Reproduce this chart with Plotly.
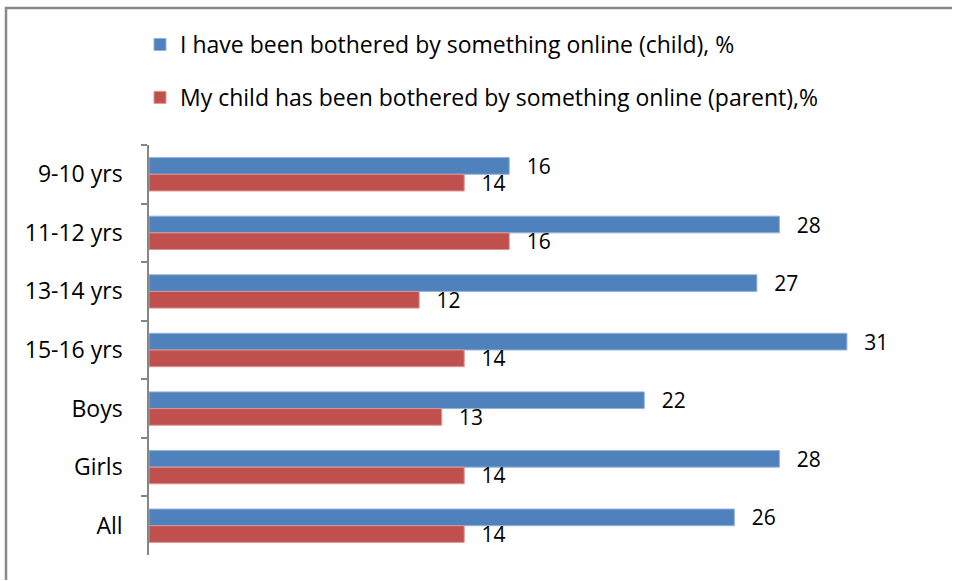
import plotly.graph_objects as go

categories = ["9-10 yrs", "11-12 yrs", "13-14 yrs", "15-16 yrs", "Boys", "Girls", "All"]
child_values = [16, 28, 27, 31, 22, 28, 26]
parent_values = [14, 16, 12, 14, 13, 14, 14]
child_name = "I have been bothered by something online (child), %"
parent_name = "My child has been bothered by something online (parent),%"

FONT = "Open Sans"
W, H = 953, 581
ml, mr, mt, mb = 149, 16, 145, 26
pw = W - ml - mr
ph = H - mt - mb

def px_x(p):
    return (p - ml) / pw

def px_y(p):
    return (H - mb - p) / ph

fig = go.Figure()
fig.add_trace(go.Bar(
    y=categories, x=child_values, name=child_name, orientation="h",
    marker=dict(color="#4F81BD", line=dict(color="#95B3D7", width=1)),
    text=child_values, texttemplate="  \u2009%{x}", textposition="outside",
    textfont=dict(family=FONT, size=21, color="#000000"),
    constraintext="none", cliponaxis=False, legendgroup="a",
))
fig.add_trace(go.Bar(
    y=categories, x=parent_values, name=parent_name, orientation="h",
    marker=dict(color="#C0504D", line=dict(color="#D99694", width=1)),
    text=parent_values, texttemplate="  \u2009%{x}", textposition="outside",
    textfont=dict(family=FONT, size=21, color="#000000"),
    constraintext="none", cliponaxis=False, legendgroup="b",
))

fig.update_layout(
    width=W, height=H,
    margin=dict(l=ml, r=mr, t=mt, b=mb, pad=0, autoexpand=False),
    paper_bgcolor="white", plot_bgcolor="white",
    barmode="group", bargap=0.43, bargroupgap=0,
    font=dict(family=FONT, size=22, color="#000000"),
    showlegend=True,
    legend=dict(
        x=px_x(140), xanchor="left",
        y=px_y(23), yanchor="top",
        font=dict(family=FONT, size=23, color="#000000"),
        tracegroupgap=20, traceorder="grouped",
        itemwidth=30, bgcolor="rgba(0,0,0,0)",
    ),
)
fig.update_xaxes(range=[0, 35], visible=False, showgrid=False, fixedrange=True, automargin=False)
fig.update_yaxes(
    autorange="reversed", type="category", automargin=False,
    showline=True, linecolor="#868686", linewidth=1.5,
    ticks="outside", ticklen=6, tickcolor="#868686", tickwidth=1.5,
    tickson="boundaries", showgrid=False,
    tickfont=dict(family=FONT, size=23, color="#000000"),
    ticklabelstandoff=20,
)
frame_line = dict(color="#898989", width=2.5)
# top edge of the chart frame (runs off the right side of the picture)
fig.add_shape(type="line", xref="paper", yref="paper",
              x0=px_x(5), x1=px_x(W - 1), y0=px_y(8), y1=px_y(8),
              line=frame_line, layer="above")
# left edge of the chart frame (runs off the bottom of the picture)
fig.add_shape(type="line", xref="paper", yref="paper",
              x0=px_x(6), x1=px_x(6), y0=px_y(7), y1=px_y(H - 1),
              line=frame_line, layer="above")

fig.write_html(
    "out.html",
    config={"displayModeBar": False},
    post_script="document.body.style.margin='0px';document.body.style.overflow='hidden';",
)
